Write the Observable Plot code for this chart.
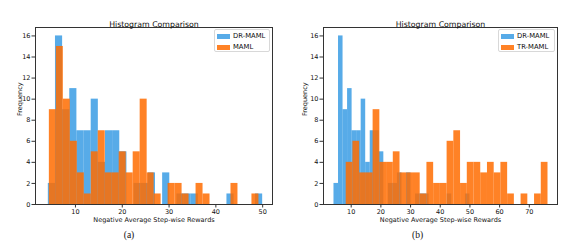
<!DOCTYPE html>
<html>
<head>
<meta charset="utf-8">
<script src="https://cdn.jsdelivr.net/npm/d3@7"></script>
<script src="https://cdn.jsdelivr.net/npm/@observablehq/plot@0.6"></script>
<style>
  html, body { margin: 0; padding: 0; background: #fff; }
  #wrap { position: relative; width: 588px; height: 243px; font-family: "DejaVu Sans", sans-serif; color: #111; }
  .panel { position: absolute; top: 0; width: 294px; height: 243px; }
  .legend { position: absolute; top: 29px; height: 23px; border: 1px solid #d8d8d8; border-radius: 2px; background: rgba(255,255,255,0.8); box-sizing: border-box; }
  .row { position: absolute; left: 2px; height: 8px; display: flex; align-items: center; font-size: 6.8px; white-space: nowrap; }
  .sw { width: 13px; height: 5px; margin-right: 3px; }
</style>
</head>
<body>
<div id="wrap"></div>
<script>
// ---- data ----
const seriesNames = ["DR-MAML", "MAML", "TR-MAML"];
const drMamlCounts = [2, 16, 9, 11, 7, 7, 10, 4, 7, 7, 5, 0, 2, 2, 3, 0, 3, 0, 1, 1, 1, 0, 0, 0, 0, 1, 0, 0, 0, 1];
const drMamlRange = [4.2, 50.0];
const mamlCounts = [9, 15, 10, 6, 3, 1, 5, 7, 3, 3, 5, 3, 5, 10, 3, 1, 0, 2, 2, 1, 0, 2, 1, 0, 0, 0, 2, 0, 0, 1];
const mamlRange = [4.42, 49.2];
const trMamlCounts = [4, 6, 3, 3, 9, 4, 4, 5, 3, 3, 3, 1, 4, 2, 2, 6, 7, 2, 4, 4, 3, 4, 3, 4, 1, 0, 1, 0, 1, 4];
const trMamlRange = [8.32, 76.3];
const yTicks = [0, 2, 4, 6, 8, 10, 12, 14, 16];
const xTicksA = [10, 20, 30, 40, 50];
const xTicksB = [10, 20, 30, 40, 50, 60, 70];
const chartTitle = "Histogram Comparison";
const xLabel = "Negative Average Step-wise Rewards";
const yLabel = "Frequency";
const captions = ["(a)", "(b)"];

const blue = "#1f8fe0";
const orange = "#ff6c00";

function toBins(counts, range) {
  const w = (range[1] - range[0]) / counts.length;
  return counts.map((c, i) => ({x1: range[0] + i * w, x2: range[0] + (i + 1) * w, count: c})).filter(d => d.count > 0);
}

function panel(opts) {
  const {left, binsA, binsB, xDomain, xTicks, mL, mR, yLabDx, capDx, names, legendLeft, legendWidth} = opts;
  const div = document.createElement("div");
  div.className = "panel";
  div.style.left = left + "px";
  const chart = Plot.plot({
    width: 294, height: 243,
    marginLeft: mL, marginRight: mR, marginTop: 27, marginBottom: 39,
    style: {background: "transparent", fontFamily: "DejaVu Sans, sans-serif", fontSize: "6.5px", color: "#111", overflow: "visible"},
    x: {domain: xDomain, label: null},
    y: {domain: [0, 16.8], label: null},
    marks: [
      Plot.rectY(binsA, {x1: "x1", x2: "x2", y: "count", fill: blue, fillOpacity: 0.75, inset: 0}),
      Plot.rectY(binsB, {x1: "x1", x2: "x2", y: "count", fill: orange, fillOpacity: 0.85, inset: 0}),
      Plot.frame({stroke: "#333", strokeWidth: 1}),
      Plot.axisX({ticks: xTicks, tickSize: 3.5, tickPadding: 1, tickFormat: d => String(d), label: null, stroke: "#333"}),
      Plot.axisY({ticks: yTicks, tickSize: 3.5, tickPadding: 1.5, tickFormat: d => String(d), label: null, stroke: "#333"}),
      Plot.text([chartTitle], {text: d => d, frameAnchor: "top", dy: -6, fontSize: 7.8, fill: "#111"}),
      Plot.text([xLabel], {text: d => d, frameAnchor: "bottom", dy: 17.5, fontSize: 6.5, fill: "#111"}),
      Plot.text([yLabel], {text: d => d, frameAnchor: "left", dx: yLabDx, rotate: -90, fontSize: 6.5, fill: "#111"}),
      Plot.text([opts.caption], {text: d => d, frameAnchor: "bottom", dy: 33.5, dx: capDx, fontSize: 9.5, fontFamily: "Liberation Serif, DejaVu Serif, serif", fill: "#111"})
    ]
  });
  div.appendChild(chart);
  const lg = document.createElement("div");
  lg.className = "legend";
  lg.style.left = legendLeft + "px";
  lg.style.width = legendWidth + "px";
  [[names[0], blue, 0.75, 2], [names[1], orange, 0.85, 13]].forEach(([n, c, o, top]) => {
    const r = document.createElement("div");
    r.className = "row";
    r.style.top = top + "px";
    const s = document.createElement("div");
    s.className = "sw";
    s.style.background = c;
    s.style.opacity = o;
    const t = document.createElement("span");
    t.textContent = n;
    r.appendChild(s); r.appendChild(t);
    lg.appendChild(r);
  });
  div.appendChild(lg);
  return div;
}

const wrap = document.getElementById("wrap");
wrap.appendChild(panel({
  left: 0,
  binsA: toBins(drMamlCounts, drMamlRange),
  binsB: toBins(mamlCounts, mamlRange),
  xDomain: [1.46, 52.1], xTicks: xTicksA, mL: 35, mR: 22, yLabDx: -16, capDx: -25,
  caption: captions[0], names: [seriesNames[0], seriesNames[1]], legendLeft: 214, legendWidth: 56
}));
wrap.appendChild(panel({
  left: 294,
  binsA: toBins(drMamlCounts, drMamlRange),
  binsB: toBins(trMamlCounts, trMamlRange),
  xDomain: [0.67, 79.5], xTicks: xTicksB, mL: 29, mR: 31, yLabDx: -19, capDx: -23,
  caption: captions[1], names: [seriesNames[0], seriesNames[2]], legendLeft: 204, legendWidth: 57
}));
</script>
</body>
</html>
